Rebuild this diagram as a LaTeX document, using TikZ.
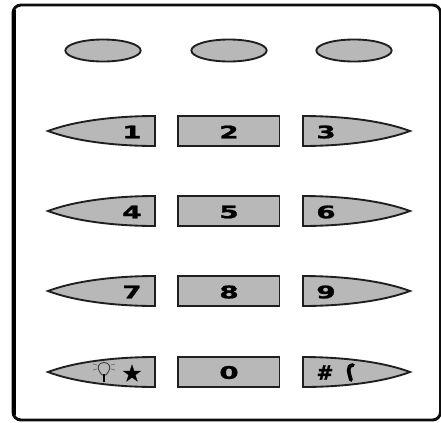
\documentclass[tikz,border=0pt]{standalone}
\usepackage{fontspec}
\usetikzlibrary{shapes.geometric}
\setmainfont{DejaVu Sans}
\newfontfamily\heavyfont[BoldFont={DejaVu Sans Bold},BoldFeatures={FakeBold=1.2}]{DejaVu Sans}
\tikzset{
  keyface/.style={draw=black!88,line width=1.4pt,fill=black!28,line join=miter},
  keylabel/.style={font=\heavyfont\bfseries\fontsize{13}{13}\selectfont,inner sep=0pt,text=black,xscale=1.6,transform shape},
  symlabel/.style={font=\heavyfont\bfseries\fontsize{15}{15}\selectfont,inner sep=0pt,text=black}
}
\newcommand{\lkey}[1]{%
  \path[keyface] (48,#1) .. controls (80,#1-12) and (125,#1-15) .. (155,#1-15) -- (155,#1+15) .. controls (125,#1+15) and (80,#1+12) .. (48,#1) -- cycle;}
\newcommand{\rkey}[1]{%
  \path[keyface] (410,#1) .. controls (378,#1-12) and (333,#1-15) .. (303,#1-15) -- (303,#1+15) .. controls (333,#1+15) and (378,#1+12) .. (410,#1) -- cycle;}
\begin{document}
\begin{tikzpicture}[x=0.75pt,y=-0.75pt]
\useasboundingbox (0,0) rectangle (441,422);
\fill[white] (0,0) rectangle (441,422);
\draw[line width=2.2pt,rounded corners=6pt,black!95] (13,5) rectangle (440.5,420);
\draw[line width=3pt,black] (13.5,10) -- (13.5,415);
% soft keys
\foreach \n/\x in {sa/103,sb/229,sc/354}
  \node[keyface,ellipse,minimum width=56.5pt,minimum height=16.5pt,inner sep=0pt] (\n) at (\x,50.5) {};
% number keys
\foreach \y/\a/\b/\c in {131/1/2/3,211/4/5/6,291/7/8/9}{
  \lkey{\y}
  \path[keyface] (178,\y-15) rectangle (279.5,\y+15);
  \rkey{\y}
  \node[keylabel] (k\a) at (132,\y+1) {\a};
  \node[keylabel] (k\b) at (229,\y+1) {\b};
  \node[keylabel] (k\c) at (326,\y+1) {\c};
}
% bottom row
\lkey{372}
\path[keyface] (178,357) rectangle (279.5,387);
\rkey{372}
\node[symlabel] (star) at (132,373) {\fontsize{17}{17}\selectfont ★};
\node[keylabel] (k0) at (229,372.5) {0};
\node[symlabel] (hash) at (325,372.5) {\#};
% bulb
\draw[black!75,line width=.7pt] (102,375) .. controls (95,367) and (99,362.5) .. (104,362.5) .. controls (109,362.5) and (113,367) .. (106,375) -- cycle;
\draw[black,line width=2pt] (104,374) -- (104,382);
\draw[black!55,line width=.6pt] (93,370) -- (97,369) (111,369) -- (115,370) (93,364) -- (97,365) (115,364) -- (111,365);
% handset
\draw[black,line width=2.8pt,line cap=round] (353,365) .. controls (346,366) and (349,373) .. (351,380);
\end{tikzpicture}
\end{document}
